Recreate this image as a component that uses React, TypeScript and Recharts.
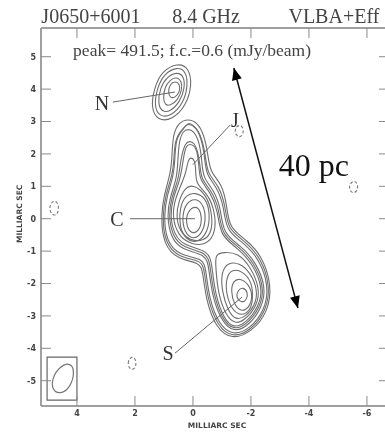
import { Line, LineChart, ReferenceDot, XAxis, YAxis } from "recharts";

type Pair = number[];

const xTicks = [4, 2, 0, -2, -4, -6];
const yTicks = [5, 4, 3, 2, 1, 0, -1, -2, -3, -4, -5];

// north component
const n1: Pair[] = [[0.52, 4.81], [0.14, 4.66], [0.03, 4.13], [0.24, 3.48], [0.72, 3.05], [1.21, 3.02], [1.45, 3.42], [1.34, 4.03], [1.07, 4.56]];
const n2: Pair[] = [[0.55, 4.69], [0.24, 4.56], [0.17, 4.1], [0.34, 3.54], [0.76, 3.17], [1.14, 3.14], [1.34, 3.45], [1.24, 4.03], [1.0, 4.47]];
const n3: Pair[] = [[0.55, 4.53], [0.31, 4.41], [0.28, 4.03], [0.45, 3.6], [0.79, 3.3], [1.07, 3.3], [1.21, 3.54], [1.14, 4.03], [0.9, 4.38]];
const n4: Pair[] = [[0.59, 4.38], [0.38, 4.25], [0.38, 3.97], [0.52, 3.66], [0.79, 3.48], [0.97, 3.51], [1.03, 3.73], [0.97, 4.07], [0.79, 4.28]];
const n5: Pair[] = [[0.62, 4.25], [0.45, 4.16], [0.45, 3.91], [0.62, 3.73], [0.79, 3.73], [0.86, 3.91], [0.79, 4.16]];

// contours around the whole J + C + S body
const body1: Pair[] = [[0.17, 3.08], [-0.14, 2.98], [-0.38, 2.61], [-0.52, 1.97], [-0.59, 1.44], [-1.0, 1.07], [-1.17, 0.42], [-1.24, -0.29], [-1.86, -0.66], [-2.38, -1.15], [-2.72, -2.05], [-2.59, -2.88], [-2.03, -3.49], [-1.34, -3.74], [-0.79, -3.37], [-0.45, -2.51], [-0.34, -1.65], [-0.24, -1.34], [0.52, -1.27], [1.03, -0.78], [1.1, 0.11], [1.0, 0.73], [0.76, 1.44], [0.72, 1.97], [0.69, 2.61], [0.48, 2.98]];
const bodyX: Pair[] = [[0.17, 2.94], [-0.09, 2.84], [-0.31, 2.5], [-0.44, 1.9], [-0.5, 1.38], [-0.9, 1.02], [-1.12, 0.39], [-1.19, -0.33], [-1.81, -0.7], [-2.33, -1.2], [-2.67, -2.06], [-2.53, -2.85], [-2.0, -3.45], [-1.36, -3.68], [-0.85, -3.32], [-0.5, -2.48], [-0.4, -1.61], [-0.29, -1.27], [0.48, -1.21], [0.98, -0.73], [1.05, 0.11], [0.95, 0.72], [0.7, 1.38], [0.65, 1.9], [0.62, 2.5], [0.28, 2.84]];
const body2: Pair[] = [[0.17, 2.98], [-0.07, 2.86], [-0.28, 2.52], [-0.41, 1.9], [-0.45, 1.35], [-0.83, 0.98], [-1.07, 0.36], [-1.14, -0.38], [-1.76, -0.75], [-2.28, -1.24], [-2.62, -2.08], [-2.48, -2.82], [-1.97, -3.4], [-1.38, -3.61], [-0.9, -3.28], [-0.55, -2.45], [-0.45, -1.58], [-0.34, -1.21], [0.45, -1.15], [0.93, -0.69], [1.0, 0.11], [0.9, 0.7], [0.66, 1.35], [0.62, 1.9], [0.59, 2.52], [0.24, 2.86]];
const body3: Pair[] = [[0.17, 2.77], [-0.03, 2.71], [-0.21, 2.4], [-0.31, 1.81], [-0.34, 1.26], [-0.72, 0.89], [-0.97, 0.3], [-1.03, -0.47], [-1.66, -0.84], [-2.17, -1.34], [-2.52, -2.11], [-2.38, -2.76], [-1.9, -3.32], [-1.41, -3.5], [-1.0, -3.19], [-0.66, -2.39], [-0.55, -1.52], [-0.45, -1.09], [0.38, -0.97], [0.76, -0.6], [0.9, 0.11], [0.79, 0.67], [0.55, 1.26], [0.52, 1.81], [0.48, 2.4], [0.34, 2.71]];
const bodyY: Pair[] = [[0.12, 2.4], [-0.05, 2.34], [-0.17, 2.08], [-0.25, 1.62], [-0.28, 1.22], [-0.65, 0.86], [-0.91, 0.28], [-0.98, -0.5], [-1.6, -0.87], [-2.12, -1.37], [-2.46, -2.12], [-2.33, -2.73], [-1.86, -3.27], [-1.41, -3.44], [-1.03, -3.14], [-0.71, -2.36], [-0.6, -1.49], [-0.5, -1.03], [0.34, -0.91], [0.71, -0.53], [0.84, 0.11], [0.74, 0.65], [0.5, 1.22], [0.45, 1.62], [0.38, 2.0], [0.26, 2.34]];
const body4: Pair[] = [[0.1, 2.31], [-0.07, 2.25], [-0.17, 1.97], [-0.21, 1.56], [-0.24, 1.19], [-0.59, 0.83], [-0.86, 0.27], [-0.93, -0.53], [-1.55, -0.91], [-2.07, -1.4], [-2.41, -2.14], [-2.28, -2.7], [-1.83, -3.22], [-1.41, -3.38], [-1.07, -3.1], [-0.76, -2.33], [-0.66, -1.46], [-0.55, -0.97], [0.31, -0.85], [0.66, -0.47], [0.79, 0.11], [0.69, 0.64], [0.45, 1.19], [0.38, 1.56], [0.31, 1.97], [0.24, 2.25]];

// central component, the small J peak sits on the outermost one
const c1: Pair[] = [[0.07, 1.9], [-0.07, 1.81], [-0.1, 1.44], [-0.1, 1.07], [-0.52, 0.76], [-0.76, 0.21], [-0.79, -0.41], [-0.48, -0.81], [0.03, -0.81], [0.52, -0.53], [0.72, 0.08], [0.62, 0.61], [0.34, 1.19], [0.24, 1.44], [0.17, 1.81]];
const c2: Pair[] = [[0, 1.07], [-0.48, 0.73], [-0.66, 0.15], [-0.66, -0.41], [-0.38, -0.69], [0.07, -0.69], [0.45, -0.41], [0.59, 0.08], [0.48, 0.58], [0.28, 0.95]];
const c3: Pair[] = [[-0.07, 0.82], [-0.45, 0.64], [-0.59, 0.15], [-0.52, -0.41], [-0.17, -0.75], [0.24, -0.66], [0.48, -0.23], [0.45, 0.39], [0.24, 0.73]];
const c4: Pair[] = [[-0.1, 0.64], [-0.38, 0.42], [-0.45, -0.04], [-0.31, -0.47], [0, -0.66], [0.31, -0.41], [0.38, 0.11], [0.21, 0.52]];
const c5: Pair[] = [[-0.1, 0.42], [-0.28, 0.21], [-0.31, -0.16], [-0.14, -0.44], [0.1, -0.44], [0.24, -0.16], [0.21, 0.21]];

// southern component
const s1: Pair[] = [[-1.07, -1.03], [-1.55, -1.06], [-1.97, -1.46], [-2.31, -2.14], [-2.21, -2.7], [-1.79, -3.13], [-1.45, -3.25], [-1.14, -3.0], [-0.86, -2.3], [-0.79, -1.52], [-0.76, -1.09]];
const s2: Pair[] = [[-1.21, -1.34], [-1.62, -1.37], [-1.97, -1.65], [-2.24, -2.2], [-2.14, -2.7], [-1.79, -3.04], [-1.48, -3.13], [-1.21, -2.85], [-1.0, -2.26], [-0.97, -1.65]];
const s3: Pair[] = [[-1.34, -1.55], [-1.72, -1.62], [-2.03, -1.95], [-2.07, -2.42], [-2.0, -2.82], [-1.66, -3.01], [-1.34, -2.82], [-1.14, -2.3], [-1.14, -1.83]];
const s4: Pair[] = [[-1.62, -1.83], [-1.93, -2.02], [-2.07, -2.39], [-1.93, -2.76], [-1.66, -2.88], [-1.41, -2.64], [-1.31, -2.23], [-1.38, -1.92]];
const s5: Pair[] = [[-1.72, -2.11], [-1.9, -2.26], [-1.86, -2.51], [-1.66, -2.6], [-1.48, -2.42], [-1.55, -2.2]];

const contours = [n1, n2, n3, n4, n5, body1, bodyX, body2, body3, bodyY, body4, c1, c2, c3, c4, c5, s1, s2, s3, s4, s5];

// negative level blobs
const negA: Pair[] = [[4.75, 0.58], [4.62, 0.42], [4.65, 0.15], [4.82, 0.08], [4.95, 0.25], [4.92, 0.48]];
const negB: Pair[] = [[-1.59, 2.9], [-1.44, 2.8], [-1.47, 2.58], [-1.62, 2.5], [-1.75, 2.62], [-1.72, 2.84]];
const negC: Pair[] = [[-5.52, 1.18], [-5.38, 1.03], [-5.42, 0.83], [-5.58, 0.78], [-5.7, 0.92], [-5.66, 1.12]];
const negD: Pair[] = [[2.1, -4.24], [2.25, -4.38], [2.22, -4.6], [2.08, -4.68], [1.95, -4.55], [1.98, -4.32]];
const negatives = [negA, negB, negC, negD];

const beam: Pair[] = [[4.21, -4.43], [4.07, -4.74], [4.24, -5.23], [4.59, -5.42], [4.86, -5.29], [4.86, -4.92], [4.59, -4.55]];
const beamBox: Pair[] = [[5.03, -4.27], [4.0, -4.27], [4.0, -5.6], [5.03, -5.6]];

const leaders: Pair[][] = [
  [[2.76, 3.6], [0.62, 3.91]],
  [[-1.28, 2.89], [0, 1.67]],
  [[2.17, 0], [-0.07, 0]],
  [[0.62, -4.15], [-1.69, -2.42]],
];
const arrow: Pair[] = [[-1.41, 4.65], [-3.62, -2.76]];

const titles = [
  { text: "J0650+6001", x: 3.52, y: 6.26 },
  { text: "8.4 GHz", x: -0.45, y: 6.26 },
  { text: "VLBA+Eff", x: -4.86, y: 6.26 },
];
const components = [
  { text: "N", x: 3.14, y: 3.57 },
  { text: "J", x: -1.45, y: 3.05 },
  { text: "C", x: 2.62, y: 0 },
  { text: "S", x: 0.86, y: -4.15 },
];

const toPoints = (p: Pair[]) => p.map(([x, y]) => ({ x, y }));

const serif = "'Liberation Serif', serif";
const axisFont = { fontSize: 8, fontWeight: 700, fontFamily: "'DejaVu Sans', sans-serif", fill: "#444" };
const axisLine = { stroke: "#a0a0a0", strokeWidth: 2 };
const tickLine = { stroke: "#8a8a8a", strokeWidth: 1 };
const ax = { xAxisId: "x", yAxisId: "y" };

// top and right axes carry tick marks but no numbers
const noLabel = () => <g />;

function ArrowHead({ cx, cy, index }: any) {
  return (
    <polygon
      key={index}
      points="0,0 -5,12 5,12"
      fill="#000"
      transform={`translate(${cx} ${cy}) rotate(${index === 0 ? -14.8 : 165.2})`}
    />
  );
}

function note(text: string, x: number, y: number, fontSize: number, fill: string, extra = {}) {
  return (
    <ReferenceDot
      key={text}
      {...ax}
      x={x}
      y={y}
      r={0}
      fill="none"
      stroke="none"
      ifOverflow="visible"
      label={{ value: text, position: "center", fontSize, fontFamily: serif, fill, ...extra }}
    />
  );
}

export default function App() {
  return (
    <div
      style={{
        position: "absolute",
        left: 0,
        top: 0,
        width: 385,
        height: 435,
        overflow: "hidden",
        background: "#fff",
        filter: "blur(0.5px)",
      }}
    >
      <LineChart width={400} height={435} margin={{ top: 27, right: 10, bottom: 28, left: 40 }}>
        <XAxis
          xAxisId="x"
          dataKey="x"
          type="number"
          reversed
          domain={[-6.76, 5.24]}
          allowDataOverflow
          ticks={xTicks}
          interval={0}
          height={1}
          tickSize={-10}
          tickMargin={14}
          tick={axisFont}
          axisLine={axisLine}
          tickLine={tickLine}
        />
        <XAxis
          xAxisId="top"
          dataKey="x"
          type="number"
          orientation="top"
          reversed
          domain={[-6.76, 5.24]}
          allowDataOverflow
          ticks={xTicks}
          interval={0}
          height={1}
          tickSize={-10}
          tick={noLabel}
          axisLine={axisLine}
          tickLine={tickLine}
        />
        <YAxis
          yAxisId="y"
          type="number"
          domain={[-5.78, 5.886]}
          allowDataOverflow
          ticks={yTicks}
          interval={0}
          width={1}
          tickSize={-10}
          tickMargin={15}
          tick={axisFont}
          axisLine={axisLine}
          tickLine={tickLine}
        />
        <YAxis
          yAxisId="right"
          type="number"
          orientation="right"
          domain={[-5.78, 5.886]}
          allowDataOverflow
          ticks={yTicks}
          interval={0}
          width={1}
          tickSize={-10}
          tick={noLabel}
          axisLine={axisLine}
          tickLine={tickLine}
        />
        {contours.map((c, i) => (
          <Line key={`c${i}`} {...ax} data={toPoints(c)} dataKey="y" type="basisClosed" stroke="#6e6e6e" strokeWidth={1.1} dot={false} activeDot={false} isAnimationActive={false} />
        ))}
        {negatives.map((c, i) => (
          <Line key={`neg${i}`} {...ax} data={toPoints(c)} dataKey="y" type="basisClosed" stroke="#777" strokeWidth={1.1} strokeDasharray="3 2" dot={false} activeDot={false} isAnimationActive={false} />
        ))}
        <Line {...ax} data={toPoints(beam)} dataKey="y" type="basisClosed" stroke="#777" strokeWidth={1.2} dot={false} activeDot={false} isAnimationActive={false} />
        <Line {...ax} data={toPoints(beamBox)} dataKey="y" type="linearClosed" stroke="#666" strokeWidth={1.2} dot={false} activeDot={false} isAnimationActive={false} />
        {leaders.map((c, i) => (
          <Line key={`l${i}`} {...ax} data={toPoints(c)} dataKey="y" type="linear" stroke="#666" strokeWidth={1} dot={false} activeDot={false} isAnimationActive={false} />
        ))}
        <Line {...ax} data={toPoints(arrow)} dataKey="y" type="linear" stroke="#111" strokeWidth={1.5} dot={ArrowHead} activeDot={false} isAnimationActive={false} />
        {titles.map((t) => note(t.text, t.x, t.y, 20, "#444"))}
        {components.map((t) => note(t.text, t.x, t.y, 20, "#333"))}
        {note("peak= 491.5; f.c.=0.6 (mJy/beam)", 0.03, 5.2, 17.5, "#444")}
        {note("40 pc", -4.17, 1.66, 32, "#111")}
        {note("MILLIARC SEC", -0.83, -6.37, 7.5, "#444", { fontWeight: 700, fontFamily: "'DejaVu Sans', sans-serif" })}
        {note("MILLIARC SEC ", 5.97, 0.15, 7.5, "#444", { fontWeight: 700, fontFamily: "'DejaVu Sans', sans-serif", angle: -90 })}
      </LineChart>
    </div>
  );
}
